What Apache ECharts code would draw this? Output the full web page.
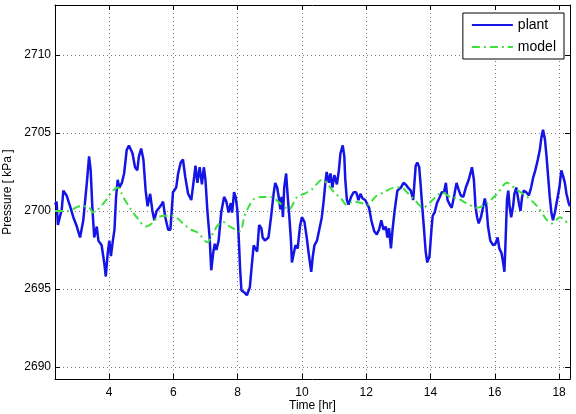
<!DOCTYPE html>
<html>
<head>
<meta charset="utf-8">
<script src="https://cdn.jsdelivr.net/npm/echarts@6/dist/echarts.min.js"></script>
<style>
  html, body { margin: 0; padding: 0; background: #fff; }
  #chart { width: 576px; height: 414px; }
</style>
</head>
<body>
<div id="chart"></div>
<script>
// time axis [hr] and pressure [kPa]
var plantTime = [2.32, 2.37, 2.41, 2.53, 2.58, 2.68, 2.79, 2.89, 3.00, 3.10, 3.20, 3.31, 3.38, 3.43, 3.48, 3.54, 3.62, 3.67, 3.77, 3.85,
  3.90, 3.96, 4.01, 4.06, 4.12, 4.17, 4.22, 4.27, 4.32, 4.40, 4.47, 4.55, 4.62, 4.73, 4.81, 4.88, 4.93, 5.00, 5.07, 5.14,
  5.20, 5.28, 5.35, 5.41, 5.48, 5.56, 5.63, 5.68, 5.75, 5.84, 5.91, 5.96, 5.99, 6.09, 6.15, 6.23, 6.30, 6.37, 6.46, 6.56,
  6.65, 6.69, 6.75, 6.82, 6.89, 6.95, 7.00, 7.06, 7.13, 7.18, 7.24, 7.29, 7.34, 7.41, 7.49, 7.58, 7.65, 7.72, 7.79, 7.83,
  7.89, 7.94, 7.99, 8.04, 8.08, 8.12, 8.20, 8.29, 8.38, 8.45, 8.50, 8.55, 8.61, 8.67, 8.74, 8.78, 8.85, 8.96, 9.04, 9.12,
  9.17, 9.23, 9.28, 9.33, 9.37, 9.41, 9.45, 9.51, 9.56, 9.61, 9.66, 9.69, 9.75, 9.80, 9.87, 9.94, 10.00, 10.08, 10.15, 10.21,
  10.29, 10.34, 10.39, 10.47, 10.54, 10.62, 10.68, 10.73, 10.77, 10.84, 10.89, 10.95, 11.01, 11.09, 11.15, 11.20, 11.27, 11.32, 11.35, 11.40,
  11.45, 11.53, 11.61, 11.69, 11.76, 11.82, 11.89, 11.97, 12.02, 12.09, 12.16, 12.25, 12.33, 12.40, 12.47, 12.54, 12.61, 12.66, 12.71, 12.77,
  12.82, 12.89, 12.97, 13.08, 13.16, 13.23, 13.30, 13.39, 13.46, 13.49, 13.54, 13.59, 13.65, 13.70, 13.75, 13.80, 13.85, 13.90, 13.97, 14.03,
  14.07, 14.13, 14.20, 14.27, 14.35, 14.42, 14.48, 14.53, 14.60, 14.66, 14.73, 14.81, 14.87, 14.94, 15.02, 15.10, 15.19, 15.29, 15.35, 15.40,
  15.45, 15.50, 15.57, 15.64, 15.69, 15.74, 15.79, 15.86, 15.95, 16.02, 16.09, 16.14, 16.21, 16.26, 16.30, 16.34, 16.38, 16.42, 16.46, 16.51,
  16.57, 16.61, 16.67, 16.75, 16.80, 16.85, 16.90, 16.98, 17.06, 17.13, 17.19, 17.26, 17.34, 17.40, 17.45, 17.50, 17.56, 17.61, 17.66, 17.71,
  17.76, 17.81, 17.87, 17.94, 18.01, 18.07, 18.13, 18.18, 18.23, 18.30, 18.34];
var plantPressure = [2700.4, 2700.6, 2699.1, 2700.1, 2701.3, 2701.0, 2700.3, 2699.6, 2699.0, 2698.3, 2699.4, 2701.8, 2703.5, 2702.6, 2700.3, 2698.3, 2699.0, 2698.1, 2697.8, 2696.7,
  2695.8, 2697.3, 2698.1, 2697.1, 2698.1, 2698.8, 2700.9, 2702.0, 2701.5, 2701.8, 2702.4, 2703.9, 2704.2, 2703.7, 2702.8, 2702.6, 2703.5, 2704.0, 2703.3, 2701.3,
  2700.3, 2701.1, 2700.0, 2699.4, 2700.0, 2700.2, 2700.4, 2700.6, 2699.6, 2698.8, 2698.8, 2700.3, 2701.2, 2701.5, 2702.4, 2703.1, 2703.3, 2702.2, 2701.1, 2700.7,
  2702.2, 2702.9, 2701.8, 2702.8, 2701.7, 2702.8, 2702.0, 2700.0, 2698.3, 2696.2, 2697.3, 2697.9, 2697.5, 2698.1, 2699.9, 2700.9, 2700.6, 2699.9, 2700.5, 2699.9,
  2701.2, 2700.9, 2700.1, 2698.1, 2696.2, 2694.9, 2694.8, 2694.6, 2695.1, 2696.7, 2697.8, 2697.7, 2697.4, 2699.1, 2698.9, 2698.3, 2698.1, 2698.3, 2699.6, 2701.1,
  2701.8, 2701.5, 2700.9, 2700.1, 2700.9, 2699.6, 2701.5, 2702.4, 2700.9, 2699.6, 2698.1, 2696.7, 2697.3, 2697.8, 2697.6, 2699.0, 2699.6, 2699.3, 2698.3, 2697.3,
  2696.1, 2697.1, 2697.8, 2698.1, 2698.8, 2699.6, 2700.7, 2701.8, 2702.5, 2701.8, 2702.4, 2701.5, 2702.3, 2701.7, 2702.6, 2703.7, 2704.2, 2703.5, 2702.0, 2700.7,
  2700.4, 2700.9, 2701.2, 2701.2, 2700.7, 2701.1, 2700.8, 2700.7, 2700.7, 2700.2, 2699.4, 2698.7, 2698.5, 2698.8, 2699.4, 2698.8, 2699.0, 2698.3, 2698.9, 2697.6,
  2698.8, 2700.1, 2701.3, 2701.5, 2701.8, 2701.7, 2701.5, 2701.3, 2700.7, 2701.5, 2702.9, 2703.1, 2702.8, 2701.5, 2700.1, 2698.8, 2697.4, 2696.7, 2697.1, 2698.8,
  2699.7, 2699.9, 2700.5, 2700.8, 2701.2, 2701.2, 2701.8, 2700.7, 2700.4, 2700.2, 2700.9, 2701.8, 2701.4, 2701.0, 2700.9, 2701.5, 2702.0, 2702.8, 2702.0, 2700.3,
  2699.6, 2699.2, 2699.6, 2700.3, 2700.8, 2700.3, 2699.0, 2698.1, 2697.8, 2697.9, 2698.3, 2697.6, 2697.3, 2696.7, 2696.1, 2698.3, 2700.7, 2701.3, 2700.3, 2699.6,
  2700.3, 2701.1, 2701.5, 2700.5, 2700.0, 2700.9, 2701.3, 2701.2, 2701.0, 2701.5, 2702.1, 2702.6, 2703.3, 2703.9, 2704.7, 2705.2, 2704.6, 2703.5, 2702.2, 2700.9,
  2699.9, 2699.4, 2699.9, 2700.7, 2701.5, 2702.6, 2702.2, 2701.8, 2701.1, 2700.5, 2700.3];

var modelTime = [2.32, 2.72, 3.10, 3.35, 3.50, 3.66, 3.91, 4.12, 4.28, 4.44, 4.65, 4.90, 5.14, 5.33, 5.52, 5.77, 5.96, 6.15, 6.30, 6.55,
  6.77, 7.06, 7.24, 7.39, 7.55, 7.76, 8.07, 8.22, 8.38, 8.53, 8.76, 9.07, 9.26, 9.59, 9.85, 10.07, 10.32, 10.63, 10.81, 11.00,
  11.22, 11.39, 11.59, 11.87, 12.06, 12.28, 12.56, 12.87, 13.09, 13.31, 13.55, 13.77, 13.96, 14.17, 14.36, 14.61, 14.86, 15.11, 15.45, 15.76,
  16.07, 16.38, 16.66, 17.01, 17.32, 17.63, 17.78, 18.03, 18.25, 18.34];
var modelPressure = [2700.0, 2700.0, 2700.3, 2700.3, 2699.9, 2700.1, 2700.7, 2701.3, 2701.5, 2700.9, 2700.2, 2699.5, 2699.0, 2699.2, 2699.6, 2699.7, 2699.7, 2699.5, 2699.2, 2698.8,
  2698.6, 2698.0, 2698.6, 2699.1, 2699.3, 2699.0, 2698.7, 2699.7, 2700.4, 2700.8, 2700.9, 2700.9, 2700.6, 2700.1, 2700.9, 2701.1, 2701.4, 2702.0, 2701.7, 2701.2,
  2700.8, 2700.4, 2700.6, 2700.5, 2700.4, 2700.9, 2701.2, 2701.5, 2701.5, 2701.1, 2700.6, 2700.2, 2700.5, 2700.9, 2701.2, 2700.9, 2700.8, 2700.5, 2700.2, 2700.5,
  2701.1, 2701.8, 2701.4, 2700.9, 2700.3, 2699.4, 2699.2, 2699.6, 2699.3, 2699.3];

var xTicks = [4, 6, 8, 10, 12, 14, 16, 18];
var yTicks = [2690, 2695, 2700, 2705, 2710];

function pairs(t, v) {
    var out = [];
    for (var i = 0; i < t.length; i++) out.push([t[i], v[i]]);
    return out;
}

var font = 'Arial, "Liberation Sans", sans-serif';
var gridDots = { show: true, lineStyle: { color: '#7a7a7a', width: 1, type: [1, 3] } };
var black = { color: '#000', width: 1 };
function plain(v) { return String(v); }

function xAx(pos, main) {
    return {
        type: 'value', position: pos, min: 2.32, max: 18.34,
        axisLine: { show: true, onZero: false, lineStyle: black },
        axisTick: { show: true, inside: true, length: 5, customValues: xTicks, lineStyle: black },
        axisLabel: { show: main, customValues: xTicks, formatter: plain, color: '#000', fontSize: 12, fontFamily: font, margin: 8 },
        splitLine: main ? gridDots : { show: false },
        name: main ? 'Time [hr]' : '', nameLocation: 'middle', nameGap: 21, nameMoveOverlap: false,
        nameTextStyle: { color: '#000', fontSize: 12, fontFamily: font }
    };
}
function yAx(pos, main) {
    return {
        type: 'value', position: pos, min: 2689.23, max: 2713.2,
        axisLine: { show: true, onZero: false, lineStyle: black },
        axisTick: { show: true, inside: true, length: 5, customValues: yTicks, lineStyle: black },
        axisLabel: { show: main, customValues: yTicks, formatter: plain, color: '#000', fontSize: 12, fontFamily: font, margin: 4 },
        splitLine: main ? gridDots : { show: false },
        name: main ? 'Pressure [ kPa ]' : '', nameLocation: 'middle', nameGap: 40,
        nameTextStyle: { color: '#000', fontSize: 12, fontFamily: font }
    };
}

var chart = echarts.init(document.getElementById('chart'));
chart.setOption({
    backgroundColor: '#fff',
    animation: false,
    grid: { left: 55, top: 5, right: 6, bottom: 35, containLabel: false, outerBoundsMode: 'none' },
    legend: {
        orient: 'vertical', right: 12, top: 13,
        backgroundColor: '#fff', borderColor: '#000', borderWidth: 1,
        padding: [5, 8, 5, 8], itemGap: 8, itemWidth: 41, itemHeight: 14,
        itemStyle: { opacity: 0 },
        textStyle: { color: '#000', fontSize: 14, fontFamily: font },
        data: ['plant', 'model']
    },
    xAxis: [xAx('bottom', true), xAx('top', false)],
    yAxis: [yAx('left', true), yAx('right', false)],
    series: [
        {
            name: 'plant', type: 'line', symbol: 'none', z: 3,
            data: pairs(plantTime, plantPressure),
            lineStyle: { color: '#1414e6', width: 2.5 },
            itemStyle: { color: '#1414e6' }
        },
        {
            name: 'model', type: 'line', symbol: 'none', smooth: 0.3, z: 4,
            data: pairs(modelTime, modelPressure),
            lineStyle: { color: '#3ee03e', width: 2, type: [8, 4, 2, 4] },
            itemStyle: { color: '#3ee03e' }
        }
    ]
});
</script>
</body>
</html>
